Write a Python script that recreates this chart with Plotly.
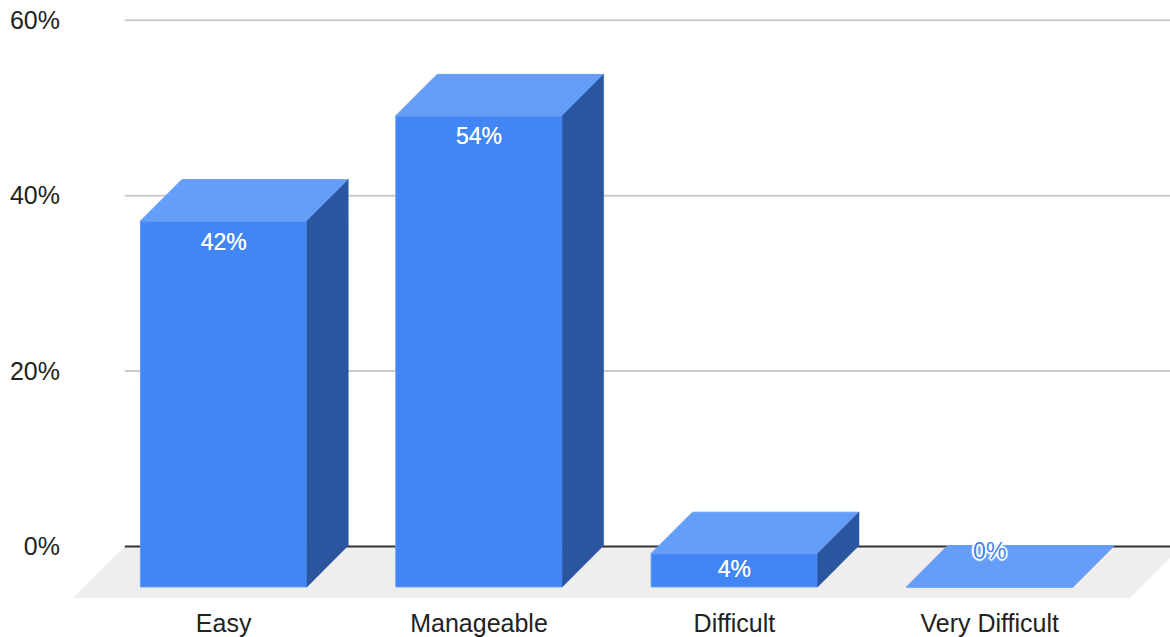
import plotly.graph_objects as go

categories = ["Easy", "Manageable", "Difficult", "Very Difficult"]
values = [41.7, 53.7, 3.8, 0.0]
bar_labels = ["42%", "54%", "4%", "0%"]
y_ticks = [0, 20, 40, 60]
y_tick_labels = ["0%", "20%", "40%", "60%"]

FRONT = "#4285f4"
TOP = "#669df6"
SIDE = "#2a56a0"
FLOOR = "#eeeeee"
GRID = "#cccccc"
ZERO = "#333333"
FONT = "Liberation Sans, Arial, sans-serif"

x_range = [-0.590, 3.706]
y_range = [-5.86, 62.3]
grid_start = -0.387
bar_width = 0.652
depth_x = 0.162
depth_y = 4.72
base = -4.6

fig = go.Figure()

# floor + gridlines on primary axes
fig.add_trace(go.Scatter(
    x=[x_range[0], grid_start, x_range[1], x_range[1], 3.55],
    y=[y_range[0], 0, 0, -1.3, y_range[0]],
    fill="toself", fillcolor=FLOOR, mode="none", hoverinfo="skip", showlegend=False))
for t in y_ticks:
    fig.add_trace(go.Scatter(
        x=[grid_start, x_range[1]], y=[t, t], mode="lines",
        line=dict(color=ZERO if t == 0 else GRID, width=2),
        hoverinfo="skip", showlegend=False))

# front faces
fig.add_trace(go.Bar(
    x=list(range(len(values))), y=values, base=base, width=bar_width,
    marker=dict(color=FRONT, line=dict(color=TOP, width=1)),
    xaxis="x2", yaxis="y2", hoverinfo="skip", showlegend=False))

# top and side faces
for i, v in enumerate(values):
    left = i - bar_width / 2
    right = i + bar_width / 2
    top = base + v
    fig.add_trace(go.Scatter(
        x=[left, right, right + depth_x, left + depth_x, left],
        y=[top, top, top + depth_y, top + depth_y, top],
        fill="toself", fillcolor=TOP, mode="lines", line=dict(color=TOP, width=1),
        xaxis="x2", yaxis="y2", hoverinfo="skip", showlegend=False))
    if v > 0:
        fig.add_trace(go.Scatter(
            x=[right, right + depth_x, right + depth_x, right, right],
            y=[base, base + depth_y, top + depth_y, top, base],
            fill="toself", fillcolor=SIDE, mode="lines", line=dict(color=SIDE, width=0.5),
            xaxis="x2", yaxis="y2", hoverinfo="skip", showlegend=False))

# data labels
for i, (v, lab) in enumerate(zip(values, bar_labels)):
    top = base + v
    if v == 0:
        y = -0.8
    elif v < 10:
        y = top - v / 2 - 0.1
    else:
        y = top - 2.6
    fig.add_trace(go.Scatter(
        x=[i], y=[y], mode="text", text=[lab], textposition="middle center",
        textfont=dict(
            family=FONT, size=23,
            color="#ffffff" if v > 0 else FRONT,
            shadow="0 0 0.6px #fff" if v > 0 else
                   "2px 0 1px #fff, -2px 0 1px #fff, 0 2px 1px #fff, 0 -2px 1px #fff, 1px 1px 1px #fff, -1px -1px 1px #fff, 1px -1px 1px #fff, -1px 1px 1px #fff"),
        xaxis="x2", yaxis="y2", hoverinfo="skip", showlegend=False))

axis_font = dict(family=FONT, size=25, color="#222222")
fig.update_layout(
    width=1170, height=637,
    margin=dict(l=73, r=0, t=0, b=38.5, pad=0),
    paper_bgcolor="#ffffff", plot_bgcolor="rgba(0,0,0,0)",
    showlegend=False, barmode="overlay",
    xaxis=dict(range=x_range, tickmode="array", tickvals=list(range(len(categories))),
               ticktext=categories, showgrid=False, zeroline=False, showline=False,
               ticks="", tickfont=axis_font, ticklabelstandoff=8),
    yaxis=dict(range=y_range, tickmode="array", tickvals=y_ticks, ticktext=y_tick_labels,
               showgrid=False, zeroline=False, showline=False, ticks="",
               tickfont=axis_font, ticklabelstandoff=12),
    xaxis2=dict(range=x_range, overlaying="x", visible=False),
    yaxis2=dict(range=y_range, overlaying="y", visible=False),
)

fig.write_html("out.html", config={"displayModeBar": False},
               post_script="document.body.style.margin='0';")
